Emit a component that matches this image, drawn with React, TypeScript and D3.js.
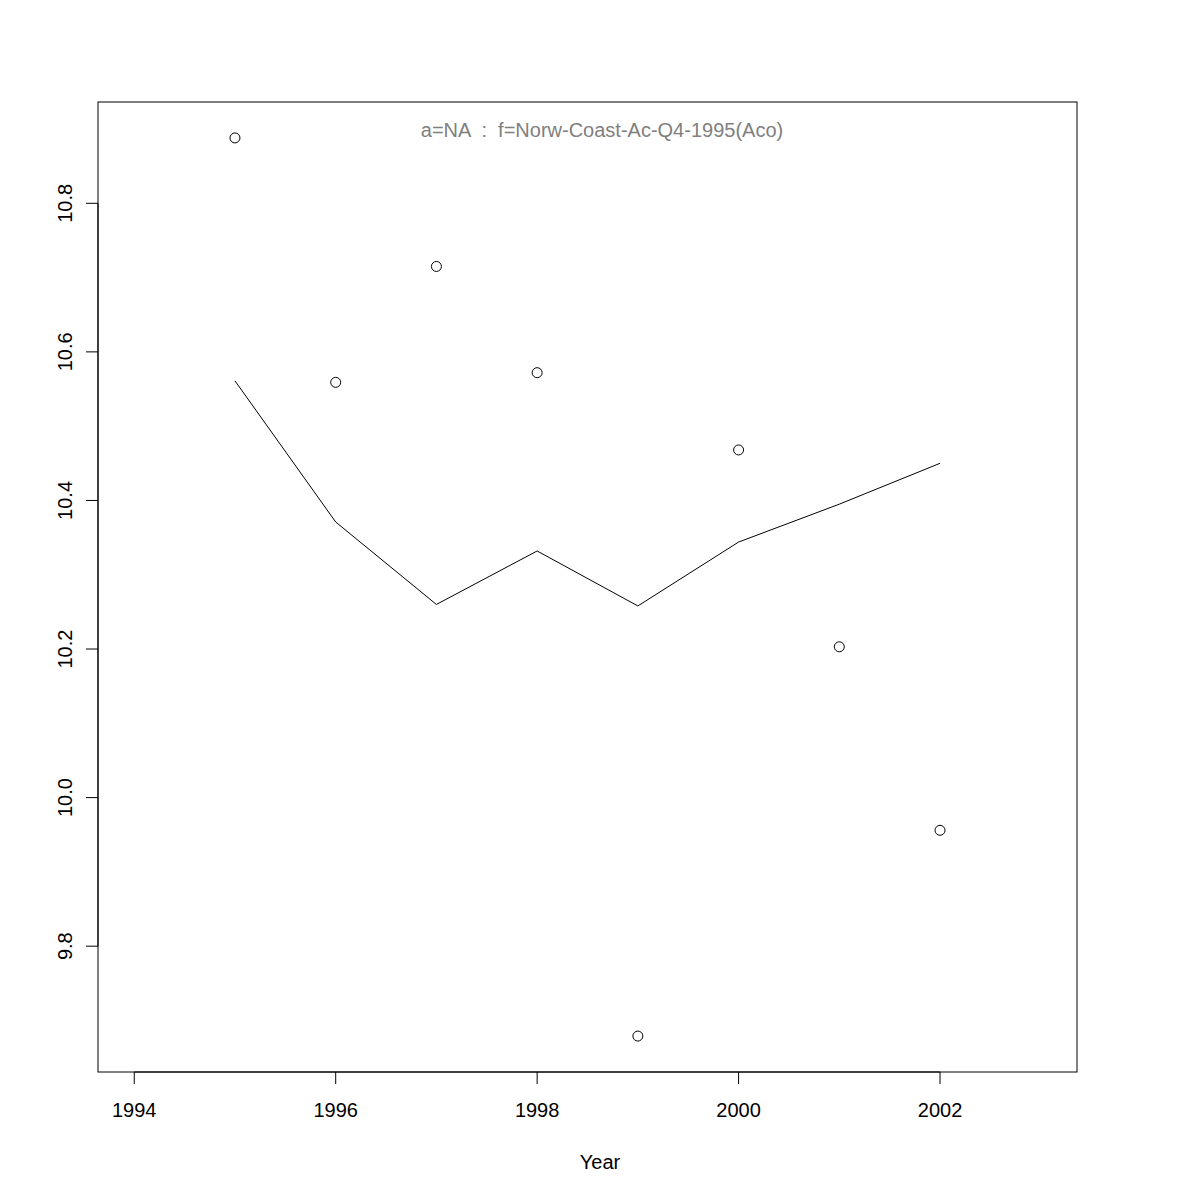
import React from "react";
import * as d3 from "d3";

const years = [1995, 1996, 1997, 1998, 1999, 2000, 2001, 2002];
const observed = [10.888, 10.559, 10.715, 10.572, 9.679, 10.468, 10.203, 9.956];
const fitted = [10.561, 10.371, 10.26, 10.332, 10.258, 10.344, 10.395, 10.45];
const xTicks = [1994, 1996, 1998, 2000, 2002];
const yTicks = [9.8, 10.0, 10.2, 10.4, 10.6, 10.8];
const titleText = "a=NA  :  f=Norw-Coast-Ac-Q4-1995(Aco)";
const xLabel = "Year";

export default function App() {
  const W = 1200, H = 1200;
  const left = 98, right = 1077, top = 102, bottom = 1072;
  const xlim = [1994, 2003];
  const ylim = [d3.min(observed)!, d3.max(observed)!];
  const xe = (xlim[1] - xlim[0]) * 0.04;
  const ye = (ylim[1] - ylim[0]) * 0.04;
  const x = d3.scaleLinear().domain([xlim[0] - xe, xlim[1] + xe]).range([left, right]);
  const y = d3.scaleLinear().domain([ylim[0] - ye, ylim[1] + ye]).range([bottom, top]);
  const line = d3.line<number>().x((_, i) => x(years[i])).y((d) => y(d));
  const font = "'Liberation Sans', Arial, Helvetica, sans-serif";
  return (
    <svg width={W} height={H} style={{ position: "absolute", left: 0, top: 0, background: "#fff" }} fontFamily={font}>
      <rect x={0} y={0} width={W} height={H} fill="#fff" />
      <rect x={left} y={top} width={right - left} height={bottom - top} fill="none" stroke="#000" strokeWidth={1} />
      <path d={line(fitted) || ""} fill="none" stroke="#000" strokeWidth={1} />
      {years.map((yr, i) => (
        <circle key={yr} cx={x(yr)} cy={y(observed[i])} r={5} fill="none" stroke="#000" strokeWidth={1} />
      ))}
      {/* x axis */}
      <line x1={x(xTicks[0])} x2={x(xTicks[xTicks.length - 1])} y1={bottom} y2={bottom} stroke="#000" />
      {xTicks.map((t) => (
        <g key={t}>
          <line x1={x(t)} x2={x(t)} y1={bottom} y2={bottom + 12} stroke="#000" />
          <text x={x(t)} y={bottom + 45} textAnchor="middle" fontSize={20} fill="#000">{t}</text>
        </g>
      ))}
      {/* y axis */}
      <line x1={left} x2={left} y1={y(yTicks[0])} y2={y(yTicks[yTicks.length - 1])} stroke="#000" />
      {yTicks.map((t) => (
        <g key={t}>
          <line x1={left - 12} x2={left} y1={y(t)} y2={y(t)} stroke="#000" />
          <text transform={`translate(${left - 26},${y(t)}) rotate(-90)`} textAnchor="middle" fontSize={20} fill="#000">{t.toFixed(1)}</text>
        </g>
      ))}
      <text x={602} y={137} textAnchor="middle" fontSize={20} fill="#808080" style={{ whiteSpace: "pre" }} xmlSpace="preserve">{titleText}</text>
      <text x={600} y={1169} textAnchor="middle" fontSize={20} fill="#000">{xLabel}</text>
    </svg>
  );
}
